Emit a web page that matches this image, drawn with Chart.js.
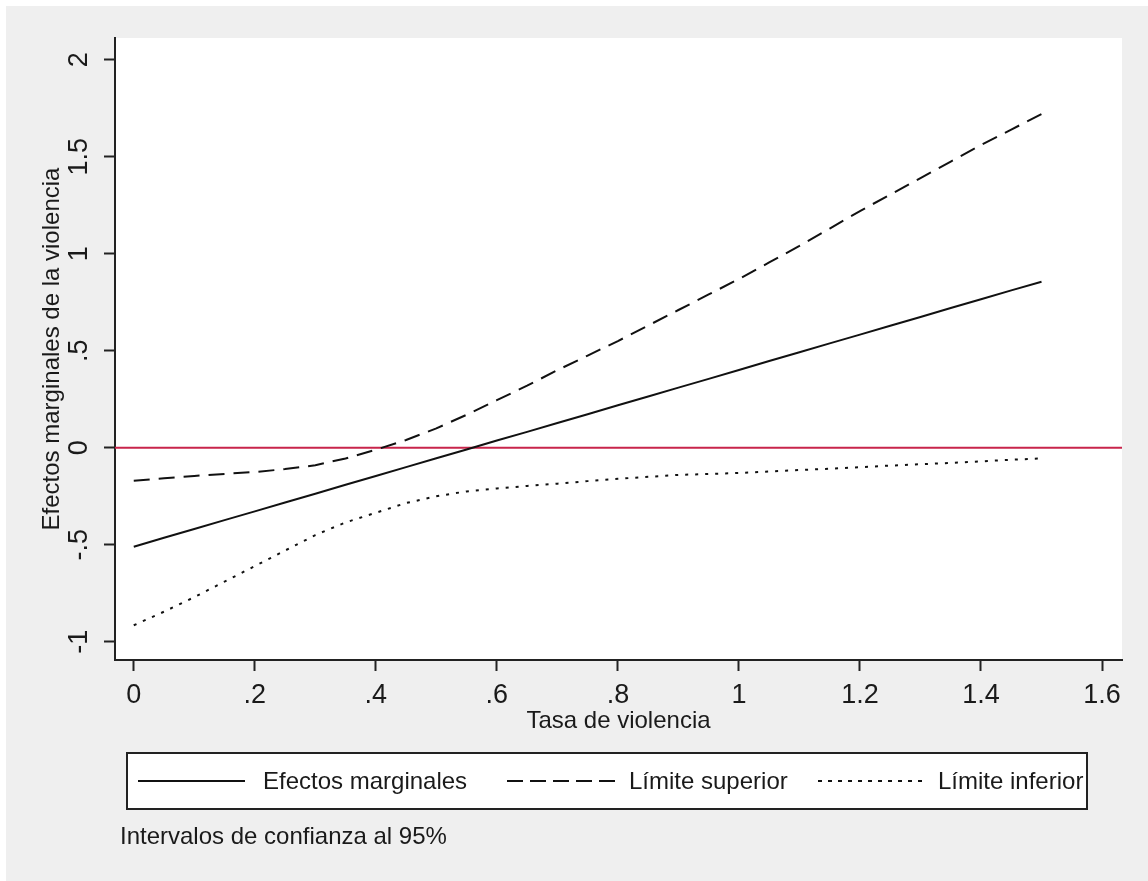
<!DOCTYPE html>
<html>
<head>
<meta charset="utf-8">
<title>Efectos marginales de la violencia</title>
<script src="https://cdn.jsdelivr.net/npm/chart.js@4.4.1/dist/chart.umd.min.js"></script>
<style>
    html, body { margin: 0; padding: 0; background: #ffffff; }
    #wrap { position: absolute; left: 6px; top: 6px; width: 1142px; height: 875px; background: #efefef; }
    canvas { display: block; }
</style>
</head>
<body>
<div id="wrap"><canvas id="chart" width="1142" height="875"></canvas></div>
<script>
// Data
const tasa = [0, 0.05, 0.1, 0.15, 0.2, 0.25, 0.3, 0.35, 0.4, 0.45, 0.5, 0.55, 0.6, 0.65, 0.7, 0.75,
              0.8, 0.85, 0.9, 0.95, 1.0, 1.05, 1.1, 1.15, 1.2, 1.25, 1.3, 1.35, 1.4, 1.45, 1.5];
const efectos = [-0.51, -0.464, -0.419, -0.373, -0.328, -0.282, -0.237, -0.191, -0.146, -0.10, -0.054, -0.009, 0.037, 0.082, 0.128, 0.173,
                 0.219, 0.264, 0.31, 0.355, 0.401, 0.447, 0.492, 0.538, 0.583, 0.629, 0.674, 0.72, 0.765, 0.811, 0.856];
const limiteSup = [-0.17, -0.157, -0.145, -0.135, -0.125, -0.11, -0.09, -0.055, -0.01, 0.04, 0.10, 0.17, 0.245, 0.32, 0.40, 0.475,
                   0.55, 0.63, 0.71, 0.79, 0.87, 0.955, 1.04, 1.13, 1.22, 1.305, 1.39, 1.475, 1.56, 1.64, 1.72];
const limiteInf = [-0.915, -0.845, -0.77, -0.69, -0.61, -0.53, -0.45, -0.385, -0.335, -0.285, -0.25, -0.225, -0.21, -0.197, -0.185, -0.172,
                   -0.16, -0.15, -0.14, -0.135, -0.13, -0.122, -0.115, -0.108, -0.10, -0.092, -0.085, -0.078, -0.07, -0.062, -0.055];

const xTicks = [0, 0.2, 0.4, 0.6, 0.8, 1, 1.2, 1.4, 1.6];
const yTicks = [-1, -0.5, 0, 0.5, 1, 1.5, 2];
const refLine = 0;

const labels = ['Efectos marginales', 'Límite superior', 'Límite inferior'];
const nota = 'Intervalos de confianza al 95%';

const FONT = "'Liberation Sans', Arial, sans-serif";
const INK = '#1a1a1a';

// Stata style number: .5 instead of 0.5
function stataNum(v) {
    let s = String(Math.round(v * 100) / 100);
    return s.replace(/^0\./, '.').replace(/^-0\./, '-.');
}

function toPoints(ys) {
    return tasa.map((x, i) => ({ x: x, y: ys[i] }));
}

// White plot region
const plotBg = {
    id: 'plotBg',
    beforeDraw(chart) {
        const { ctx, chartArea: a } = chart;
        ctx.save();
        ctx.fillStyle = '#ffffff';
        ctx.fillRect(a.left, a.top, a.right - a.left, a.bottom - a.top);
        ctx.restore();
    }
};

// Red horizontal line at zero
const yLine = {
    id: 'yLine',
    beforeDatasetsDraw(chart) {
        const { ctx, chartArea: a, scales } = chart;
        const y = scales.y.getPixelForValue(refLine);
        ctx.save();
        ctx.strokeStyle = '#c8254b';
        ctx.lineWidth = 2;
        ctx.beginPath();
        ctx.moveTo(a.left, y);
        ctx.lineTo(a.right, y);
        ctx.stroke();
        ctx.restore();
    }
};

// Boxed legend row and note below the axis
const stataLegend = {
    id: 'stataLegend',
    afterDraw(chart) {
        const ctx = chart.ctx;
        const box = { left: 121, top: 747, right: 1081, bottom: 803 };
        const midY = (box.top + box.bottom) / 2;
        const sampleDash = [[], [16, 7], [4, 6]];
        const sampleX = [132, 501, 812];
        const sampleLen = [107, 108, 104];
        const textX = [257, 623, 932];

        ctx.save();
        ctx.fillStyle = '#ffffff';
        ctx.fillRect(box.left, box.top, box.right - box.left, box.bottom - box.top);
        ctx.strokeStyle = '#222';
        ctx.lineWidth = 2;
        ctx.strokeRect(box.left, box.top, box.right - box.left, box.bottom - box.top);

        ctx.font = '24px ' + FONT;
        ctx.textBaseline = 'middle';
        ctx.textAlign = 'left';

        chart.data.datasets.forEach((ds, i) => {
            ctx.strokeStyle = ds.borderColor;
            ctx.lineWidth = 2;
            ctx.setLineDash(sampleDash[i]);
            ctx.beginPath();
            ctx.moveTo(sampleX[i], midY);
            ctx.lineTo(sampleX[i] + sampleLen[i], midY);
            ctx.stroke();
            ctx.setLineDash([]);
            ctx.fillStyle = INK;
            ctx.fillText(ds.label, textX[i], midY + 1);
        });

        ctx.fillStyle = INK;
        ctx.fillText(nota, 114, 831);
        ctx.restore();
    }
};

Chart.defaults.font.family = FONT;
Chart.defaults.color = INK;

const ctx = document.getElementById('chart').getContext('2d');

new Chart(ctx, {
    type: 'line',
    data: {
        datasets: [
            {
                label: labels[0],
                data: toPoints(efectos),
                borderColor: '#111111',
                borderWidth: 2,
                pointRadius: 0,
                tension: 0
            },
            {
                label: labels[1],
                data: toPoints(limiteSup),
                borderColor: '#111111',
                borderWidth: 2,
                borderDash: [16, 9],
                pointRadius: 0,
                tension: 0
            },
            {
                label: labels[2],
                data: toPoints(limiteInf),
                borderColor: '#111111',
                borderWidth: 2,
                borderDash: [3, 7],
                pointRadius: 0,
                tension: 0
            }
        ]
    },
    options: {
        responsive: false,
        animation: false,
        devicePixelRatio: 1,
        layout: {
            padding: { top: 32, right: 26, left: 0, bottom: 0 }
        },
        plugins: {
            legend: { display: false },
            tooltip: { enabled: false }
        },
        scales: {
            x: {
                type: 'linear',
                min: -0.031,
                max: 1.633,
                afterFit: (scale) => { scale.height = 221; },
                afterBuildTicks: (scale) => { scale.ticks = xTicks.map(v => ({ value: v })); },
                border: { display: true, color: '#222', width: 2 },
                grid: {
                    drawOnChartArea: false,
                    drawTicks: true,
                    tickLength: 11,
                    tickWidth: 2,
                    tickColor: '#222'
                },
                ticks: {
                    autoSkip: false,
                    maxRotation: 0,
                    padding: 8,
                    color: INK,
                    font: { size: 27 },
                    callback: (v) => stataNum(v)
                },
                title: {
                    display: true,
                    text: 'Tasa de violencia',
                    color: INK,
                    font: { size: 24 },
                    padding: { top: 0, bottom: 145 }
                }
            },
            y: {
                type: 'linear',
                min: -1.094,
                max: 2.112,
                afterFit: (scale) => { scale.width = 109; },
                afterBuildTicks: (scale) => { scale.ticks = yTicks.map(v => ({ value: v })); },
                border: { display: true, color: '#222', width: 2 },
                grid: {
                    drawOnChartArea: false,
                    drawTicks: true,
                    tickLength: 11,
                    tickWidth: 2,
                    tickColor: '#222'
                },
                ticks: {
                    autoSkip: false,
                    minRotation: 90,
                    maxRotation: 90,
                    crossAlign: 'center',
                    padding: 6,
                    color: INK,
                    font: { size: 27 },
                    callback: (v) => stataNum(v)
                },
                title: {
                    display: true,
                    text: 'Efectos marginales de la violencia',
                    color: INK,
                    font: { size: 24 },
                    padding: { top: 32, bottom: 0 }
                }
            }
        }
    },
    plugins: [plotBg, yLine, stataLegend]
});
</script>
</body>
</html>
